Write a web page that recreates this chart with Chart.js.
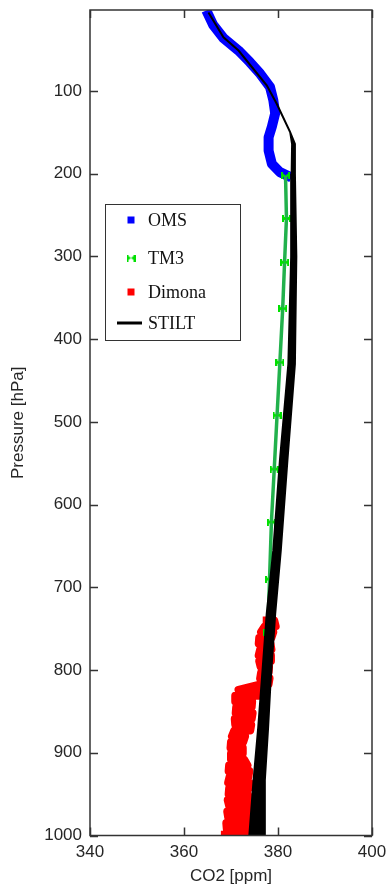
<!DOCTYPE html>
<html>
<head>
<meta charset="utf-8">
<script src="https://cdn.jsdelivr.net/npm/chart.js@4.4.1/dist/chart.umd.min.js"></script>
<style>
  html, body { margin: 0; padding: 0; background: #fff; }
  canvas { display: block; }
</style>
</head>
<body>
<canvas id="profile" width="388" height="888"></canvas>
<script>
// Axis ticks
const xTicks = [340, 360, 380, 400];
const yTicks = [100, 200, 300, 400, 500, 600, 700, 800, 900, 1000];

// OMS balloon profile, upper levels
const omsPressure = [8, 20, 36, 51, 65, 79, 95, 111, 127, 143, 156, 172, 188, 198, 202];
const omsCO2 = [365.2, 366.2, 368.4, 371.6, 374.0, 376.2, 378.3, 379.0, 379.4, 378.7, 378.0, 378.0, 378.7, 380.4, 381.9];

// TM3 model levels
const tm3Pressure = [202, 254, 307, 363, 428, 492, 557, 621, 690, 755];
const tm3CO2 = [381.6, 381.8, 381.4, 381.0, 380.4, 379.8, 379.2, 378.6, 378.2, 377.8];

// Dimona aircraft samples: lowest and highest value in each pressure bin
const dimonaLevels = [740, 747, 754, 761, 768, 775, 782, 789, 796, 803, 810, 817, 824, 831, 838, 845, 852, 859, 866, 873,
  880, 887, 894, 901, 908, 915, 922, 929, 936, 943, 950, 957, 964, 971, 978, 985, 992, 999];
const dimonaMin = [377.6, 377.2, 376.4, 376.0, 375.9, 376.2, 375.9, 376.0, 376.3, 376.4, 376.2, 376.5, 371.6, 371.0, 370.9, 371.1, 371.0, 370.8, 370.9, 370.7,
  370.2, 370.0, 369.9, 370.1, 370.0, 369.6, 369.5, 369.7, 369.4, 369.6, 369.5, 369.3, 369.6, 369.2, 369.4, 369.0, 369.1, 368.7];
const dimonaMax = [379.2, 379.5, 379.0, 378.6, 378.4, 378.6, 378.3, 378.5, 378.1, 378.0, 378.2, 378.0, 377.3, 376.0, 374.5, 374.4, 374.6, 374.4, 374.3, 374.1,
  373.0, 372.6, 372.4, 372.5, 372.8, 373.5, 373.9, 373.7, 373.9, 373.8, 373.6, 373.8, 373.9, 373.7, 373.5, 373.4, 373.3, 373.1];

// STILT ensemble: low and high edge of the spread
const stiltPressure = [5, 35, 51, 93, 115, 150, 164, 200, 300, 430, 547, 655, 732, 816, 869, 933, 1000];
const stiltLow = [365.2, 368.4, 371.6, 377.6, 379.7, 382.6, 383.0, 382.9, 382.8, 382.2, 380.4, 379.0, 377.6, 376.5, 375.8, 374.8, 373.9];
const stiltHigh = [365.2, 368.4, 371.6, 377.6, 379.7, 382.6, 383.6, 383.6, 383.9, 383.6, 382.0, 380.6, 379.4, 378.4, 377.9, 377.2, 377.2];

const toPoints = (xs, ps) => xs.map((v, i) => ({ x: v, y: ps[i] }));

// closed outline: down the low edge, back up the high edge
const stiltShape = toPoints(stiltLow, stiltPressure)
  .concat(toPoints(stiltHigh, stiltPressure).reverse());

// sweep each bin from min to max and back, so the samples read as one blob
const dimonaTrack = [];
dimonaLevels.forEach((p, i) => {
  const a = { x: dimonaMin[i], y: p };
  const b = { x: dimonaMax[i], y: p };
  if (i % 2) dimonaTrack.push(b, a); else dimonaTrack.push(a, b);
});

// little bow-tie marker for the model levels
function bowTie(color) {
  const c = document.createElement('canvas');
  c.width = 9; c.height = 7;
  const g = c.getContext('2d');
  g.fillStyle = color;
  g.beginPath();
  g.moveTo(0, 0); g.lineTo(4.5, 3.5); g.lineTo(9, 0);
  g.lineTo(9, 7); g.lineTo(4.5, 3.5); g.lineTo(0, 7);
  g.closePath();
  g.fill();
  g.fillRect(0, 0, 2, 7);
  g.fillRect(7, 0, 2, 7);
  return c;
}
const tm3Marker = bowTie('#00e000');

const AXIS = '#333333';
const SANS = "'Liberation Sans', Arial, sans-serif";

// MATLAB-like box with inward ticks
const framePlugin = {
  id: 'frame',
  afterDatasetsDraw(chart) {
    const { ctx, chartArea: a, scales: { x, y } } = chart;
    ctx.save();
    ctx.strokeStyle = AXIS;
    ctx.lineWidth = 1.5;
    ctx.strokeRect(a.left, a.top, a.right - a.left, a.bottom - a.top);
    ctx.beginPath();
    x.ticks.forEach(t => {
      const px = Math.round(x.getPixelForValue(t.value)) + 0.5;
      ctx.moveTo(px, a.bottom); ctx.lineTo(px, a.bottom - 8);
      ctx.moveTo(px, a.top); ctx.lineTo(px, a.top + 8);
    });
    y.ticks.forEach(t => {
      const py = Math.round(y.getPixelForValue(t.value)) + 0.5;
      ctx.moveTo(a.left, py); ctx.lineTo(a.left + 8, py);
      ctx.moveTo(a.right, py); ctx.lineTo(a.right - 8, py);
    });
    ctx.stroke();
    ctx.restore();
  }
};

// boxed legend sitting inside the plot
const legendRows = [16, 54, 88, 119];
const legendPlugin = {
  id: 'boxLegend',
  afterDraw(chart) {
    const { ctx, chartArea: a } = chart;
    const bx = a.left + 15, by = a.top + 194, bw = 135, bh = 136;
    ctx.save();
    ctx.fillStyle = '#fff';
    ctx.fillRect(bx, by, bw, bh);
    ctx.strokeStyle = AXIS;
    ctx.lineWidth = 1;
    ctx.strokeRect(bx + 0.5, by + 0.5, bw, bh);
    const order = ['OMS', 'TM3', 'Dimona', 'STILT'];
    order.forEach((name, i) => {
      const ds = chart.data.datasets.find(d => d.label === name);
      const cy = by + legendRows[i];
      const mx = bx + 26;
      if (name === 'TM3') {
        ctx.drawImage(tm3Marker, mx - 4.5, cy - 3.5);
      } else if (name === 'STILT') {
        ctx.strokeStyle = '#000';
        ctx.lineWidth = 3;
        ctx.beginPath();
        ctx.moveTo(bx + 12, cy); ctx.lineTo(bx + 37, cy);
        ctx.stroke();
      } else {
        ctx.fillStyle = ds.borderColor;
        ctx.fillRect(mx - 3.5, cy - 3.5, 7, 7);
      }
      ctx.fillStyle = '#111';
      ctx.font = "18px 'Liberation Serif', 'Times New Roman', serif";
      ctx.textBaseline = 'middle';
      ctx.textAlign = 'left';
      ctx.fillText(name, bx + 43, cy + 1);
    });
    ctx.restore();
  }
};

new Chart(document.getElementById('profile'), {
  type: 'line',
  data: {
    datasets: [
      {
        label: 'STILT',
        data: stiltShape,
        borderColor: '#000',
        backgroundColor: '#000',
        borderWidth: 2,
        fill: 'shape',
        pointRadius: 0
      },
      {
        label: 'TM3',
        data: toPoints(tm3CO2, tm3Pressure),
        borderColor: '#22b14c',
        borderWidth: 3.5,
        pointStyle: tm3Marker,
        pointRadius: 4,
        fill: false
      },
      {
        label: 'OMS',
        data: toPoints(omsCO2, omsPressure),
        borderColor: '#0000ff',
        borderWidth: 10,
        borderJoinStyle: 'round',
        borderCapStyle: 'square',
        pointRadius: 0,
        fill: false
      },
      {
        label: 'Dimona',
        data: dimonaTrack,
        borderColor: '#ff0000',
        borderWidth: 8,
        borderJoinStyle: 'round',
        borderCapStyle: 'square',
        pointRadius: 0,
        fill: false
      }
    ]
  },
  options: {
    responsive: false,
    animation: false,
    layout: { padding: { top: 10, right: 16, left: 0, bottom: 0 } },
    plugins: {
      legend: { display: false },
      tooltip: { enabled: false }
    },
    scales: {
      x: {
        type: 'linear',
        position: 'bottom',
        min: 340,
        max: 400,
        grid: { display: false, drawTicks: false },
        border: { display: false },
        afterBuildTicks: s => { s.ticks = xTicks.map(v => ({ value: v })); },
        afterFit: s => { s.height = 52.5; s.paddingLeft = 0; s.paddingRight = 0; },
        ticks: { color: '#262626', padding: 7, font: { family: SANS, size: 17 }, callback: v => String(v) },
        title: {
          display: true,
          text: 'CO2 [ppm]',
          color: '#262626',
          font: { family: SANS, size: 17 },
          padding: { top: 0, bottom: 1 }
        }
      },
      y: {
        type: 'linear',
        reverse: true,
        min: 2,
        max: 1000,
        grid: { display: false, drawTicks: false },
        border: { display: false },
        afterBuildTicks: s => { s.ticks = yTicks.map(v => ({ value: v })); },
        afterFit: s => { s.width = 90; s.paddingTop = 0; s.paddingBottom = 0; },
        ticks: { color: '#262626', padding: 8, font: { family: SANS, size: 17 }, callback: v => String(v) },
        title: {
          display: true,
          text: 'Pressure [hPa]',
          color: '#262626',
          font: { family: SANS, size: 17 },
          padding: { top: 8, bottom: 0 }
        }
      }
    }
  },
  plugins: [framePlugin, legendPlugin]
});
</script>
</body>
</html>
